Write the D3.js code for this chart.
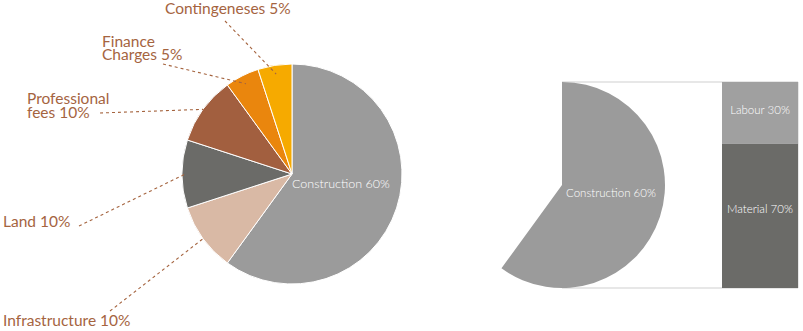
<!DOCTYPE html>
<html><head><meta charset="utf-8">
<script src="https://cdn.jsdelivr.net/npm/d3@7"></script>
<style>
html,body{margin:0;padding:0;background:#fff;}
svg{display:block;}
text{font-family:Lato, "Open Sans", sans-serif;}
</style></head>
<body><svg id="chart" width="803" height="331"></svg>
<script>
// ---- data ----
const categories = ["Construction", "Infrastructure", "Land", "Professional fees", "Finance Charges", "Contingeneses"];
const values = [60, 10, 10, 10, 5, 5];
const labelLines = [["Construction 60%"], ["Infrastructure 10%"], ["Land 10%"], ["Professional", "fees 10%"], ["Finance", "Charges 5%"], ["Contingeneses 5%"]];
const subCategories = ["Labour", "Material"];
const subValues = [30, 70];
const subLabels = ["Labour 30%", "Material 70%"];

// ---- styling / layout ----
const colors = ["#9b9b9b", "#d9b9a5", "#6b6b68", "#a25f3f", "#ea860d", "#f6aa00"];
const subColors = ["#a0a0a0", "#6b6b68"];
const labelColor = "#a5643f";
// label placement: text anchor x, first baseline y, leader outer end
const labelLayout = [
  null,
  {x: 3, y: 326, lx: 110, ly: 311, lr: 0.99},
  {x: 3, y: 227, lx: 79, ly: 226, lr: 0.97},
  {x: 27, y: 104, lx: 100, ly: 113, lr: 1.0},
  {x: 102, y: 46.5, lx: 163, ly: 64, lr: 0.92},
  {x: 165, y: 13.5, lx: 225, ly: 21, lr: 0.92}
];

const svg = d3.select("#chart");
const cx = 292, cy = 174, R = 110;

const pie = d3.pie().sort(null).value(d => d);
const arcs = pie(values);
const arc = d3.arc().innerRadius(0).outerRadius(R);

const g = svg.append("g").attr("transform", `translate(${cx},${cy})`);
g.selectAll("path").data(arcs).join("path")
  .attr("d", arc)
  .attr("fill", (d, i) => colors[i])
  .attr("stroke", "#fff").attr("stroke-width", 1);

g.append("text").attr("x", 0).attr("y", 14)
  .attr("fill", "#fff").attr("font-size", 12.5).attr("font-weight", 300)
  .text(labelLines[0][0]);

// leader lines + labels
arcs.forEach((d, i) => {
  const L = labelLayout[i];
  if (!L) return;
  const a = (d.startAngle + d.endAngle) / 2;
  const ix = cx + Math.sin(a) * R * L.lr, iy = cy - Math.cos(a) * R * L.lr;
  svg.append("line")
    .attr("x1", L.lx).attr("y1", L.ly).attr("x2", ix).attr("y2", iy)
    .attr("stroke", labelColor).attr("stroke-width", 1.1)
    .attr("stroke-dasharray", "3,3");
  const t = svg.append("text").attr("x", L.x).attr("y", L.y)
    .attr("fill", labelColor).attr("font-size", 15.5);
  labelLines[i].forEach((s, k) => {
    t.append("tspan").attr("x", L.x).attr("dy", k === 0 ? 0 : 13.5).text(s);
  });
});

// ---- exploded construction slice ----
const cx2 = 562, cy2 = 185, R2 = 103;
const arc2 = d3.arc().innerRadius(0).outerRadius(R2);
const top2 = cy2 - R2, bot2 = cy2 + R2;
const barX0 = 722, barX1 = 798;

// outline box
svg.append("path")
  .attr("d", `M${cx2},${top2}H${barX1}V${bot2}H${cx2}`)
  .attr("fill", "none").attr("stroke", "#cfcfcf").attr("stroke-width", 1);

svg.append("path")
  .attr("transform", `translate(${cx2},${cy2})`)
  .attr("d", arc2(arcs[0]))
  .attr("fill", colors[0]);

svg.append("text").attr("x", cx2 + 4).attr("y", cy2 + 12)
  .attr("fill", "#fff").attr("font-size", 11.5).attr("font-weight", 300)
  .text(labelLines[0][0]);

// stacked bar
const y = d3.scaleLinear().domain([0, d3.sum(subValues)]).range([top2, bot2]);
const stack = [];
let acc = 0;
subValues.forEach((v, i) => { stack.push({i, y0: acc, y1: acc + v}); acc += v; });

svg.selectAll("rect.sub").data(stack).join("rect").attr("class", "sub")
  .attr("x", barX0).attr("width", barX1 - barX0)
  .attr("y", d => y(d.y0)).attr("height", d => y(d.y1) - y(d.y0))
  .attr("fill", d => subColors[d.i]);

const subTextY = [y(0) + 32, y(30) + 69];
svg.selectAll("text.sub").data(stack).join("text").attr("class", "sub")
  .attr("x", (barX0 + barX1) / 2).attr("y", (d, i) => subTextY[i])
  .attr("text-anchor", "middle").attr("fill", "#fff").attr("font-size", 11.5).attr("font-weight", 300)
  .text(d => subLabels[d.i]);
</script></body></html>
